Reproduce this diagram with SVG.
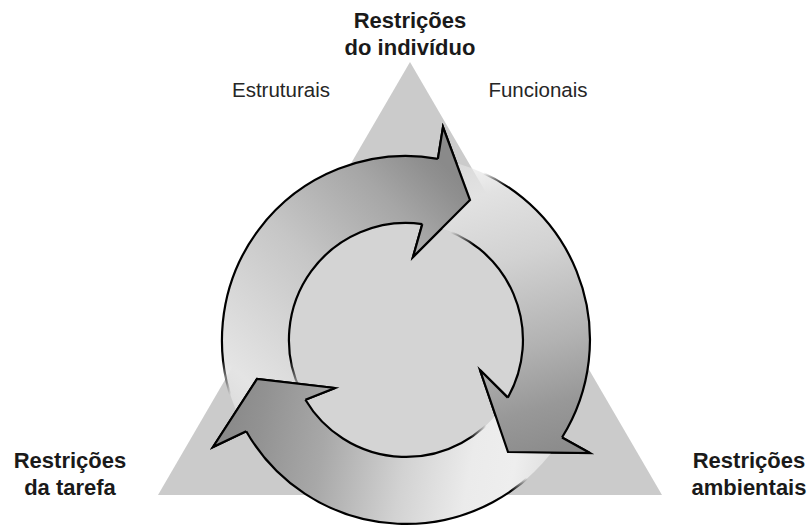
<svg xmlns="http://www.w3.org/2000/svg" width="809" height="526" viewBox="0 0 809 526">
  <style>
    .lbl { font-family: "Liberation Sans", Arial, sans-serif; fill: #1a1a1a; text-anchor: middle; }
    .b { font-weight: bold; font-size: 22px; }
    .r { font-size: 20.5px; fill: #262626; }
    .hd { stroke: #000; stroke-width: 2.2; stroke-linejoin: miter; stroke-miterlimit: 10; }
  </style>
  <defs>
    <linearGradient id="fA" gradientUnits="userSpaceOnUse" x1="240" y1="420" x2="470" y2="190">
      <stop offset="0" stop-color="#ebebeb" stop-opacity="0.5"/>
      <stop offset="0.1" stop-color="#e4e4e4"/>
      <stop offset="0.5" stop-color="#c6c6c6"/>
      <stop offset="0.8" stop-color="#a6a6a6"/>
      <stop offset="0.95" stop-color="#909090"/>
      <stop offset="1" stop-color="#8a8a8a"/>
    </linearGradient>
    <linearGradient id="fB" gradientUnits="userSpaceOnUse" x1="455" y1="165" x2="540" y2="455">
      <stop offset="0" stop-color="#e8e8e8" stop-opacity="0.5"/>
      <stop offset="0.12" stop-color="#e2e2e2"/>
      <stop offset="0.35" stop-color="#d2d2d2"/>
      <stop offset="0.65" stop-color="#b2b2b2"/>
      <stop offset="0.85" stop-color="#989898"/>
      <stop offset="1" stop-color="#8c8c8c"/>
    </linearGradient>
    <linearGradient id="fC" gradientUnits="userSpaceOnUse" x1="555" y1="465" x2="230" y2="405">
      <stop offset="0" stop-color="#f0f0f0" stop-opacity="0.5"/>
      <stop offset="0.12" stop-color="#eeeeee"/>
      <stop offset="0.25" stop-color="#ebebeb"/>
      <stop offset="0.45" stop-color="#d2d2d2"/>
      <stop offset="0.7" stop-color="#a8a8a8"/>
      <stop offset="0.9" stop-color="#929292"/>
      <stop offset="1" stop-color="#8a8a8a"/>
    </linearGradient>
    <linearGradient id="sA" gradientUnits="userSpaceOnUse" x1="0" y1="395" x2="0" y2="360">
      <stop offset="0" stop-color="#000" stop-opacity="0"/>
      <stop offset="1" stop-color="#000" stop-opacity="1"/>
    </linearGradient>
    <linearGradient id="sB" gradientUnits="userSpaceOnUse" x1="467" y1="203" x2="489.9" y2="215.6">
      <stop offset="0" stop-color="#000" stop-opacity="0"/>
      <stop offset="1" stop-color="#000" stop-opacity="1"/>
    </linearGradient>
    <linearGradient id="sC" gradientUnits="userSpaceOnUse" x1="506.4" y1="451.5" x2="489.9" y2="464.4">
      <stop offset="0" stop-color="#000" stop-opacity="0"/>
      <stop offset="1" stop-color="#000" stop-opacity="1"/>
    </linearGradient>
  </defs>

  <g id="triangle">
    <polygon points="410,62 158,495 662,495" fill="#cbcbcb"/>
  </g>
  <g id="disc">
    <circle cx="406" cy="340" r="117" fill="#d4d4d4"/>
  </g>

  <g id="connectors">
    <path id="arrow-top" d="M240.6,420.7 A184,184 0 0 1 437.9,158.8 L443,127 L470,200 L413,257 L422.3,224.1 A117,117 0 0 0 300.8,391.3" fill="url(#fA)" stroke="url(#sA)" stroke-width="2.2"/>
    <path id="arrow-right" d="M450.5,161.5 A184,184 0 0 1 562,437.5 L590,453 L508,452 L480,370 L507.8,397.6 A117,117 0 0 0 434.3,226.5" fill="url(#fB)" stroke="url(#sB)" stroke-width="2.2"/>
    <path id="arrow-bottom" d="M556.7,445.5 A184,184 0 0 1 246.2,431.2 L213,447 L257,379 L335,388 L305.4,399.7 A117,117 0 0 0 501.8,407.1" fill="url(#fC)" stroke="url(#sC)" stroke-width="2.2"/>
    <path class="hd" d="M437.9,158.8 L443,127 L470,200 L413,257 L422.3,224.1" fill="url(#fA)"/>
    <path class="hd" d="M562,437.5 L590,453 L508,452 L480,370 L507.8,397.6" fill="url(#fB)"/>
    <path class="hd" d="M246.2,431.2 L213,447 L257,379 L335,388 L305.4,399.7" fill="url(#fC)"/>
  </g>

  <g id="node-individuo">
    <text class="lbl b" x="410" y="28">Restrições</text>
    <text class="lbl b" x="410" y="55">do indivíduo</text>
  </g>
  <g id="node-estruturais">
    <text class="lbl r" x="281" y="97">Estruturais</text>
  </g>
  <g id="node-funcionais">
    <text class="lbl r" x="538" y="97">Funcionais</text>
  </g>
  <g id="node-tarefa">
    <text class="lbl b" x="70" y="468">Restrições</text>
    <text class="lbl b" x="70" y="495">da tarefa</text>
  </g>
  <g id="node-ambientais">
    <text class="lbl b" x="749" y="468">Restrições</text>
    <text class="lbl b" x="749" y="495">ambientais</text>
  </g>
</svg>
